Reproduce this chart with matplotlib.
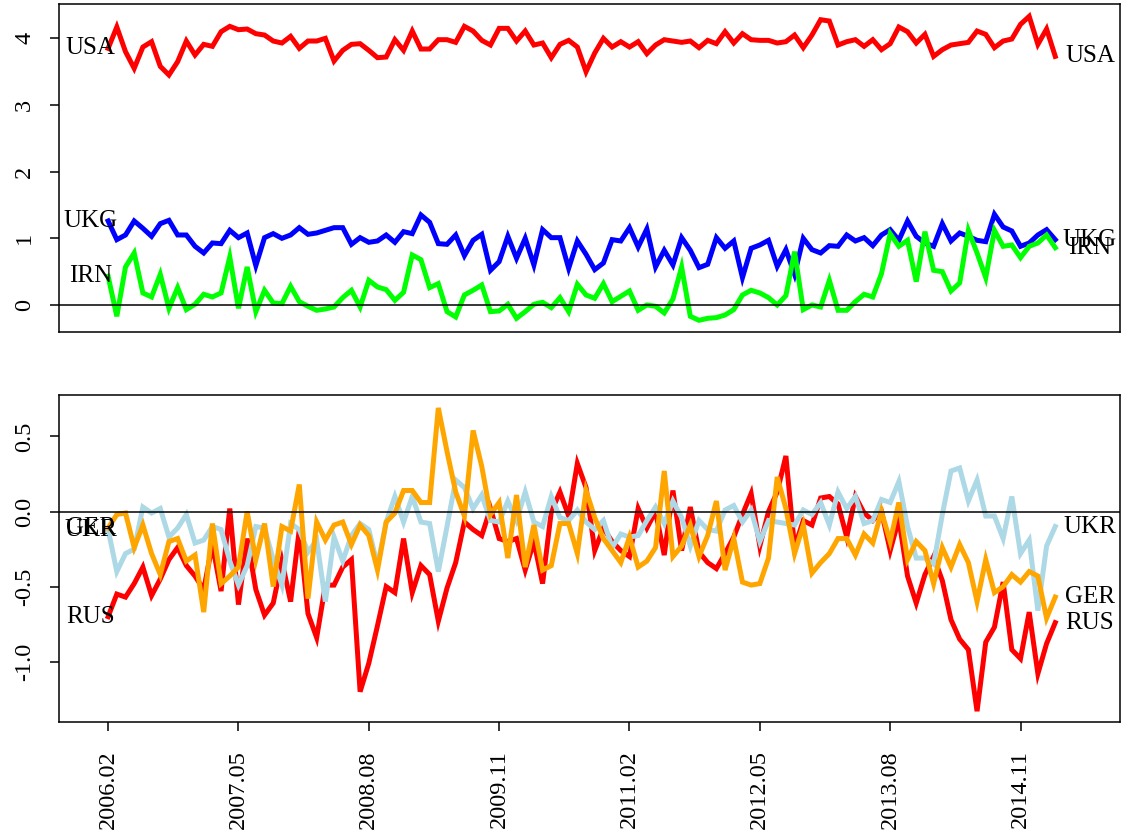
import numpy as np
import matplotlib
matplotlib.use("Agg")
import matplotlib.pyplot as plt

plt.rcParams['font.family'] = ['Liberation Serif', 'DejaVu Serif']

# monthly series, 2006.02 .. 2015.03
usa = [3.85, 4.17, 3.80, 3.55, 3.87, 3.95, 3.58, 3.45, 3.65, 3.96,
       3.75, 3.91, 3.88, 4.10, 4.18, 4.13, 4.14, 4.07, 4.05, 3.96,
       3.93, 4.03, 3.85, 3.96, 3.96, 4.00, 3.66, 3.82, 3.91, 3.92,
       3.82, 3.71, 3.72, 3.98, 3.82, 4.11, 3.84, 3.84, 3.98, 3.98,
       3.94, 4.18, 4.11, 3.97, 3.90, 4.15, 4.15, 3.96, 4.11, 3.90,
       3.93, 3.71, 3.91, 3.97, 3.87, 3.50, 3.78, 4.00, 3.87, 3.95,
       3.87, 3.95, 3.77, 3.90, 3.98, 3.96, 3.94, 3.96, 3.86, 3.97,
       3.92, 4.10, 3.93, 4.07, 3.98, 3.97, 3.97, 3.93, 3.95, 4.05,
       3.86, 4.05, 4.28, 4.26, 3.90, 3.95, 3.98, 3.88, 3.98, 3.83,
       3.92, 4.17, 4.10, 3.93, 4.06, 3.73, 3.83, 3.90, 3.92, 3.94,
       4.11, 4.06, 3.86, 3.96, 3.99, 4.21, 4.33, 3.91, 4.14, 3.73]
ukg = [1.26, 0.98, 1.05, 1.26, 1.15, 1.03, 1.22, 1.27, 1.05, 1.05,
       0.88, 0.78, 0.93, 0.92, 1.12, 1.01, 1.08, 0.59, 1.01, 1.07,
       1.00, 1.05, 1.16, 1.06, 1.08, 1.12, 1.16, 1.16, 0.91, 1.01,
       0.94, 0.96, 1.05, 0.94, 1.10, 1.07, 1.35, 1.24, 0.92, 0.91,
       1.05, 0.74, 0.97, 1.06, 0.52, 0.65, 1.03, 0.70, 1.00, 0.60,
       1.13, 1.01, 1.01, 0.55, 0.96, 0.76, 0.53, 0.63, 0.98, 0.96,
       1.16, 0.87, 1.14, 0.57, 0.82, 0.60, 1.01, 0.82, 0.56, 0.61,
       1.01, 0.85, 0.96, 0.41, 0.85, 0.90, 0.97, 0.58, 0.83, 0.46,
       1.00, 0.83, 0.78, 0.89, 0.88, 1.05, 0.96, 1.01, 0.89, 1.05,
       1.13, 0.97, 1.26, 1.03, 0.93, 0.88, 1.22, 0.96, 1.08, 1.03,
       0.97, 0.95, 1.36, 1.17, 1.11, 0.88, 0.93, 1.05, 1.13, 0.98]
irn = [0.43, -0.17, 0.57, 0.78, 0.18, 0.12, 0.46, -0.05, 0.26, -0.07,
       0.01, 0.16, 0.12, 0.18, 0.72, -0.05, 0.57, -0.10, 0.22, 0.03,
       0.02, 0.28, 0.05, -0.02, -0.08, -0.06, -0.03, 0.11, 0.22, -0.03,
       0.37, 0.27, 0.23, 0.07, 0.19, 0.75, 0.68, 0.26, 0.32, -0.10,
       -0.18, 0.15, 0.22, 0.30, -0.10, -0.09, 0.01, -0.20, -0.10, 0.01,
       0.04, -0.04, 0.11, -0.10, 0.31, 0.15, 0.10, 0.32, 0.05, 0.13,
       0.21, -0.08, 0.00, -0.02, -0.12, 0.09, 0.57, -0.17, -0.23, -0.20,
       -0.19, -0.15, -0.07, 0.15, 0.22, 0.18, 0.11, 0.00, 0.14, 0.80,
       -0.07, 0.00, -0.03, 0.37, -0.08, -0.08, 0.05, 0.16, 0.12, 0.47,
       1.07, 0.88, 0.97, 0.35, 1.10, 0.52, 0.50, 0.21, 0.33, 1.12,
       0.78, 0.41, 1.12, 0.88, 0.90, 0.71, 0.88, 0.93, 1.05, 0.86]

rus = [-0.70, -0.55, -0.57, -0.48, -0.37, -0.56, -0.45, -0.32, -0.24, -0.36,
       -0.43, -0.52, -0.22, -0.53, 0.02, -0.62, -0.18, -0.52, -0.69, -0.61,
       -0.33, -0.60, -0.12, -0.68, -0.84, -0.49, -0.49, -0.37, -0.32, -1.20,
       -1.01, -0.76, -0.50, -0.54, -0.18, -0.54, -0.36, -0.42, -0.73, -0.51,
       -0.34, -0.07, -0.12, -0.16, 0.02, -0.18, -0.20, -0.18, -0.39, -0.20,
       -0.48, 0.00, 0.13, -0.03, 0.32, 0.16, -0.26, -0.11, -0.20, -0.26,
       -0.30, 0.02, -0.11, 0.00, -0.29, 0.14, -0.26, 0.03, -0.27, -0.34,
       -0.38, -0.28, -0.17, -0.02, 0.12, -0.23, 0.00, 0.13, 0.37, -0.24,
       -0.06, -0.09, 0.09, 0.10, 0.05, -0.17, 0.10, -0.01, -0.06, 0.00,
       -0.26, -0.05, -0.43, -0.61, -0.42, -0.30, -0.46, -0.72, -0.85, -0.92,
       -1.33, -0.87, -0.77, -0.47, -0.92, -0.98, -0.67, -1.08, -0.88, -0.74]
ukr = [-0.12, -0.40, -0.28, -0.25, 0.03, -0.01, 0.02, -0.17, -0.11, -0.02,
       -0.21, -0.19, -0.10, -0.12, -0.33, -0.49, -0.36, -0.10, -0.11, -0.32,
       -0.49, -0.08, -0.12, -0.27, -0.19, -0.60, -0.17, -0.33, -0.16, -0.08,
       -0.12, -0.36, -0.07, 0.10, -0.07, 0.10, -0.07, -0.08, -0.40, -0.10,
       0.21, 0.16, 0.02, 0.11, -0.06, -0.07, 0.07, -0.06, 0.13, -0.07,
       -0.10, 0.10, -0.04, -0.06, 0.01, -0.07, -0.12, -0.06, -0.24, -0.15,
       -0.17, -0.16, -0.06, 0.03, -0.08, 0.07, -0.04, -0.23, -0.06, -0.12,
       -0.13, 0.01, 0.04, -0.07, 0.01, -0.20, -0.06, -0.07, -0.08, -0.09,
       0.01, -0.02, 0.06, -0.09, 0.13, 0.02, 0.10, -0.08, -0.06, 0.08,
       0.06, 0.20, -0.10, -0.31, -0.31, -0.35, -0.02, 0.27, 0.29, 0.07,
       0.21, -0.03, -0.03, -0.18, 0.10, -0.28, -0.19, -0.66, -0.23, -0.10]
ger = [-0.11, -0.02, -0.01, -0.24, -0.09, -0.28, -0.42, -0.20, -0.18, -0.33,
       -0.29, -0.67, -0.08, -0.48, -0.43, -0.37, 0.00, -0.32, -0.08, -0.50,
       -0.10, -0.13, 0.18, -0.58, -0.07, -0.19, -0.09, -0.07, -0.22, -0.09,
       -0.16, -0.39, -0.07, -0.01, 0.14, 0.14, 0.06, 0.06, 0.69, 0.40,
       0.13, -0.03, 0.54, 0.30, -0.02, 0.06, -0.31, 0.11, -0.37, -0.09,
       -0.39, -0.36, -0.08, -0.08, -0.28, 0.14, -0.04, -0.18, -0.26, -0.34,
       -0.17, -0.37, -0.33, -0.24, 0.27, -0.30, -0.23, -0.09, -0.30, -0.16,
       0.07, -0.39, -0.18, -0.47, -0.49, -0.48, -0.31, 0.23, 0.02, -0.28,
       -0.09, -0.41, -0.34, -0.28, -0.18, -0.18, -0.29, -0.15, -0.21, 0.00,
       -0.20, 0.06, -0.32, -0.20, -0.26, -0.48, -0.24, -0.37, -0.22, -0.34,
       -0.60, -0.32, -0.54, -0.50, -0.42, -0.47, -0.40, -0.43, -0.71, -0.57]

tick_pos = [0, 15, 30, 45, 60, 75, 90, 105]
tick_labels = ["2006.02", "2007.05", "2008.08", "2009.11",
               "2011.02", "2012.05", "2013.08", "2014.11"]

top_series = [("USA", usa, "#ff0000"), ("UKG", ukg, "#0000ff"), ("IRN", irn, "#00ff00")]
bot_series = [("RUS", rus, "#ff0000"), ("UKR", ukr, "#add8e6"), ("GER", ger, "#ffa500")]

fig = plt.figure(figsize=(11.22, 8.4), dpi=100)
ax1 = fig.add_axes([0.0530, 0.6052, 0.9456, 0.3900])
ax2 = fig.add_axes([0.0530, 0.1408, 0.9456, 0.3893])

def panel(ax, series, ylim, yticks, ylabels):
    for name, vals, col in series:
        x = np.arange(len(vals))
        ax.plot(x, vals, color=col, lw=3.6, solid_joinstyle='miter')
        # names sit just left of the first and right of the last value
        ax.text(-2, vals[0], name, ha='center', va='center', fontsize=18)
        ax.text(len(vals) + 3, vals[-1], name, ha='center', va='center', fontsize=18)
    ax.axhline(0, color='black', lw=1.1)
    ax.set_xlim(-5.6, 116.5)
    ax.set_ylim(*ylim)
    ax.set_yticks(yticks)
    ax.set_yticklabels(ylabels, rotation=90, va='center', fontsize=17.5)
    ax.tick_params(axis='y', length=6.5, width=1.1, pad=11)
    for s in ax.spines.values():
        s.set_linewidth(1.1)

panel(ax1, top_series, (-0.40, 4.515), [0, 1, 2, 3, 4], ["0", "1", "2", "3", "4"])
ax1.set_xticks([])

panel(ax2, bot_series, (-1.40, 0.778), [-1.0, -0.5, 0.0, 0.5], ["-1.0", "-0.5", "0.0", "0.5"])
ax2.set_xticks(tick_pos)
ax2.set_xticklabels(tick_labels, rotation=90, fontsize=17.5)
ax2.tick_params(axis='x', length=6.5, width=1.1, pad=14)

fig.savefig("out.png", dpi=100)
